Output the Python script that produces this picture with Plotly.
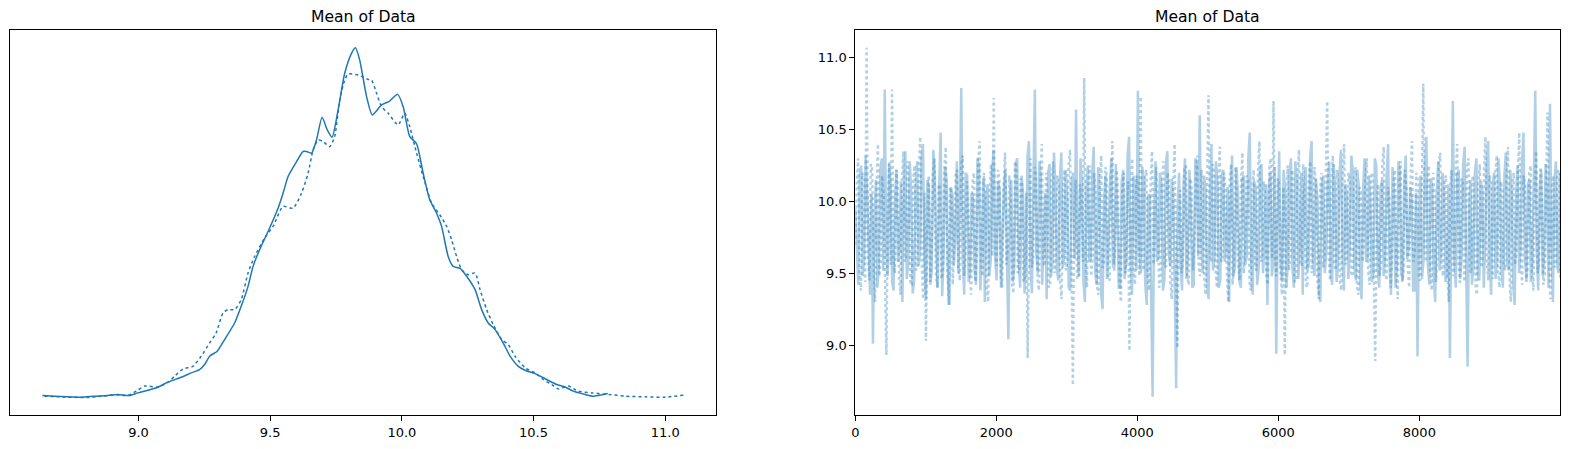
import numpy as np
import plotly.graph_objects as go

# ---- KDE (left panel) ----
kde0_x = [8.635, 8.681, 8.731, 8.782, 8.833, 8.883, 8.921, 8.966, 8.997, 9.035, 9.074, 9.112, 9.162,
          9.200, 9.232, 9.251, 9.270, 9.299, 9.327, 9.365, 9.390, 9.416, 9.435, 9.460, 9.492, 9.530,
          9.549, 9.568, 9.593, 9.625, 9.638, 9.657, 9.676, 9.697, 9.717, 9.735, 9.758, 9.783, 9.809,
          9.824, 9.840, 9.866, 9.888, 9.923, 9.951, 9.984, 10.005, 10.030, 10.056, 10.081, 10.106,
          10.132, 10.151, 10.176, 10.195, 10.221, 10.246, 10.278, 10.303, 10.328, 10.354, 10.385,
          10.411, 10.442, 10.468, 10.506, 10.550, 10.588, 10.620, 10.651, 10.696, 10.728, 10.759, 10.782]
kde0_y = [0.009, 0.006, 0.003, 0.0015, 0.006, 0.009, 0.014, 0.009, 0.021, 0.033, 0.047, 0.070, 0.092,
          0.112, 0.127, 0.150, 0.188, 0.211, 0.264, 0.339, 0.415, 0.506, 0.597, 0.673, 0.756, 0.862,
          0.930, 1.006, 1.059, 1.120, 1.120, 1.112, 1.173, 1.276, 1.218, 1.185, 1.309, 1.476, 1.567,
          1.592, 1.536, 1.370, 1.286, 1.332, 1.347, 1.380, 1.324, 1.188, 1.155, 1.021, 0.900,
          0.839, 0.779, 0.642, 0.597, 0.588, 0.552, 0.491, 0.400, 0.339, 0.309, 0.248,
          0.188, 0.142, 0.124, 0.109, 0.082, 0.059, 0.048, 0.029, 0.014, 0.006, 0.012, 0.018]

kde1_x = [8.643, 8.731, 8.807, 8.858, 8.921, 8.959, 8.997, 9.023, 9.074, 9.112, 9.137, 9.169, 9.207,
          9.238, 9.270, 9.295, 9.321, 9.340, 9.365, 9.390, 9.416, 9.441, 9.479, 9.511, 9.549, 9.587,
          9.619, 9.644, 9.663, 9.682, 9.701, 9.726, 9.745, 9.764, 9.783, 9.796, 9.834, 9.872, 9.885,
          9.904, 9.923, 9.948, 9.986, 10.011, 10.030, 10.056, 10.081, 10.113, 10.144, 10.170, 10.189,
          10.208, 10.227, 10.252, 10.278, 10.297, 10.322, 10.347, 10.379, 10.404, 10.430, 10.468,
          10.506, 10.537, 10.569, 10.594, 10.632, 10.670, 10.721, 10.785, 10.848, 10.924, 11.000, 11.070]
kde1_y = [0.006, 0.0015, 0.000, 0.006, 0.012, 0.009, 0.033, 0.052, 0.048, 0.070, 0.097, 0.130, 0.142,
          0.188, 0.248, 0.294, 0.385, 0.400, 0.400, 0.445, 0.567, 0.642, 0.726, 0.779, 0.870, 0.862,
          0.930, 1.021, 1.127, 1.173, 1.165, 1.142, 1.188, 1.355, 1.445, 1.473, 1.468, 1.448, 1.445,
          1.385, 1.324, 1.294, 1.241, 1.294, 1.233, 1.112, 1.006, 0.885, 0.832, 0.779, 0.718,
          0.642, 0.582, 0.559, 0.567, 0.491, 0.400, 0.332, 0.264, 0.241, 0.188, 0.135,
          0.112, 0.082, 0.059, 0.039, 0.052, 0.029, 0.021, 0.014, 0.006, 0.003, 0.0015, 0.011]

# ---- Trace (right panel): thinned samples ----
chain0 = [
    9.95, 9.62, 9.42, 10.18, 10.25, 9.48, 9.60, 10.32, 10.08, 9.70, 9.35, 10.05, 9.01, 9.88, 10.15, 9.40, 9.55, 10.22, 10.30, 9.52,
    10.78, 9.66, 9.48, 10.26, 10.12, 9.44, 9.38, 10.02, 10.22, 9.58, 9.70, 10.14, 9.30, 10.00, 10.35, 9.46, 9.58, 10.28, 10.05, 9.36,
    9.45, 10.08, 10.28, 9.55, 9.65, 10.30, 10.40, 9.60, 9.32, 10.15, 10.10, 9.42, 9.52, 10.36, 10.20, 9.68, 9.40, 10.12, 10.48, 9.34,
    9.62, 10.24, 10.15, 9.46, 9.28, 10.10, 10.05, 9.56, 9.75, 10.28, 9.50, 10.02, 10.79, 9.60, 9.35, 10.20, 10.18, 9.44, 9.50, 10.06,
    10.02, 9.52, 9.42, 10.30, 10.25, 9.38, 9.68, 10.16, 9.30, 10.04, 10.12, 9.48, 9.58, 10.22, 10.36, 9.62, 9.45, 10.14, 10.08, 9.40,
    9.72, 10.10, 10.22, 9.50, 9.04, 9.92, 10.15, 9.44, 9.55, 10.26, 10.30, 9.58, 9.40, 10.18, 10.05, 9.36, 9.62, 10.32, 10.42, 9.55,
    9.36, 10.12, 10.78, 9.64, 9.50, 10.28, 10.18, 9.42, 9.70, 10.06, 9.32, 10.20, 10.26, 9.48, 9.58, 10.34, 10.10, 9.52, 9.45, 10.16,
    10.34, 9.54, 9.62, 10.22, 10.02, 9.40, 9.38, 10.14, 10.20, 9.60, 10.64, 9.70, 9.48, 10.30, 10.12, 9.44, 9.30, 10.08, 10.25, 9.58,
    9.60, 10.20, 10.38, 9.50, 9.42, 10.24, 10.06, 9.36, 9.25, 10.00, 10.18, 9.46, 9.68, 10.12, 10.30, 9.56, 9.52, 10.26, 9.95, 9.40,
    9.40, 10.14, 10.22, 9.46, 9.58, 10.32, 10.45, 9.62, 9.35, 10.18, 10.10, 9.52, 10.77, 9.66, 9.50, 10.24, 10.15, 9.42, 9.28, 10.04,
    10.05, 9.48, 8.64, 9.90, 10.28, 9.58, 9.62, 10.20, 10.12, 9.38, 9.45, 10.26, 10.35, 9.64, 9.55, 10.16, 10.02, 9.44, 8.70, 9.96,
    10.20, 9.56, 9.38, 10.12, 10.30, 9.46, 9.65, 10.22, 9.95, 9.40, 9.42, 10.30, 10.25, 9.62, 10.60, 9.72, 9.50, 10.18, 10.08, 9.44,
    9.32, 10.06, 10.40, 9.52, 9.60, 10.28, 10.15, 9.40, 9.45, 10.18, 10.22, 9.58, 9.70, 10.10, 9.30, 10.02, 10.32, 9.48, 9.55, 10.24,
    10.05, 9.44, 9.40, 10.16, 10.18, 9.56, 9.62, 10.30, 10.48, 9.60, 9.35, 10.14, 10.10, 9.42, 9.52, 10.20, 10.26, 9.50, 9.68, 10.12,
    9.28, 10.10, 10.20, 9.48, 9.58, 10.24, 8.94, 9.86, 10.35, 9.56, 9.45, 10.22, 10.08, 9.40, 9.62, 10.18, 10.30, 9.54, 9.40, 10.28,
    10.15, 9.46, 9.72, 10.20, 9.35, 10.06, 10.24, 9.52, 9.55, 10.30, 10.42, 9.60, 9.48, 10.16, 10.02, 9.38, 9.30, 10.12, 10.18, 9.50,
    9.65, 10.14, 10.28, 9.50, 9.42, 10.26, 10.10, 9.44, 9.58, 10.20, 10.36, 9.62, 9.38, 10.12, 10.05, 9.46, 9.70, 10.32, 10.22, 9.56,
    9.45, 10.22, 10.12, 9.42, 9.32, 10.08, 10.30, 9.58, 9.60, 10.18, 9.98, 9.44, 9.50, 10.30, 10.25, 9.52, 9.40, 10.10, 10.15, 9.48,
    9.62, 10.16, 10.40, 9.54, 9.35, 10.24, 10.08, 9.40, 9.55, 10.28, 10.20, 9.50, 9.45, 10.14, 10.32, 9.60, 9.68, 10.10, 10.02, 9.38,
    9.38, 10.06, 8.92, 9.90, 10.18, 9.46, 9.58, 10.22, 10.45, 9.56, 9.42, 10.16, 10.10, 9.48, 9.30, 10.04, 10.28, 9.52, 9.65, 10.20,
    10.05, 9.44, 9.50, 10.12, 8.91, 9.86, 10.70, 9.58, 9.40, 10.18, 10.22, 9.46, 9.62, 10.26, 10.38, 9.56, 8.85, 9.92, 10.15, 9.42,
    9.55, 10.20, 10.30, 9.48, 9.45, 10.14, 10.08, 9.40, 9.72, 10.24, 10.42, 9.58, 9.35, 10.10, 10.20, 9.46, 9.60, 10.30, 10.12, 9.52,
    9.40, 10.18, 10.34, 9.56, 9.52, 10.22, 10.05, 9.42, 9.28, 10.06, 10.25, 9.50, 9.68, 10.28, 10.48, 9.60, 9.45, 10.12, 10.15, 9.44,
    9.58, 10.16, 10.77, 9.64, 9.38, 10.10, 10.22, 9.48, 9.62, 10.26, 10.02, 9.40, 10.68, 9.70, 9.30, 10.14, 10.28, 9.54, 9.50, 10.20,
]
chain1 = [
    9.70, 10.12, 10.30, 9.50, 9.38, 10.20, 10.15, 9.44, 11.07, 9.62, 9.45, 10.26, 10.22, 9.54, 9.30, 10.08, 10.40, 9.48, 9.58, 10.18,
    10.05, 9.40, 8.93, 9.92, 10.28, 9.56, 10.78, 9.60, 9.50, 10.22, 10.12, 9.46, 9.35, 10.14, 10.35, 9.58, 9.62, 10.28, 10.02, 9.42,
    9.42, 10.16, 10.25, 9.52, 9.55, 10.24, 10.45, 9.58, 9.32, 10.06, 9.03, 9.88, 10.18, 9.44, 9.65, 10.20, 10.30, 9.50, 9.40, 10.12,
    10.10, 9.46, 9.52, 10.22, 10.38, 9.60, 9.28, 10.10, 10.05, 9.42, 9.72, 10.18, 10.22, 9.54, 9.45, 10.26, 10.32, 9.48, 9.58, 10.14,
    9.98, 9.52, 9.35, 10.14, 10.20, 9.44, 9.62, 10.28, 10.42, 9.56, 9.48, 10.20, 10.08, 9.40, 9.30, 10.04, 10.26, 9.62, 10.72, 9.68,
    9.55, 10.22, 10.15, 9.48, 9.40, 10.10, 10.34, 9.56, 9.68, 10.18, 10.02, 9.42, 9.36, 10.28, 10.24, 9.50, 9.52, 10.16, 10.12, 9.44,
    9.45, 10.06, 8.91, 9.84, 10.30, 9.54, 9.60, 10.24, 10.18, 9.46, 9.38, 10.12, 10.40, 9.58, 9.55, 10.20, 10.05, 9.40, 9.42, 10.16,
    10.28, 9.50, 9.65, 10.18, 10.10, 9.44, 9.32, 10.08, 10.22, 9.52, 9.58, 10.26, 10.36, 9.60, 8.72, 9.94, 10.15, 9.46, 9.48, 10.12,
    10.02, 9.58, 10.86, 9.66, 9.40, 10.14, 10.25, 9.48, 9.62, 10.20, 10.08, 9.42, 9.35, 10.10, 10.32, 9.54, 9.55, 10.24, 10.18, 9.46,
    9.45, 10.16, 10.42, 9.56, 9.68, 10.22, 10.05, 9.44, 9.30, 10.08, 10.20, 9.50, 9.58, 10.14, 8.96, 9.90, 10.30, 9.52, 9.42, 10.18,
    10.12, 9.48, 10.73, 9.64, 9.52, 10.18, 10.22, 9.46, 9.38, 10.12, 10.35, 9.56, 9.65, 10.24, 10.02, 9.40, 9.45, 10.10, 10.28, 9.54,
    9.55, 10.20, 10.15, 9.44, 9.32, 10.06, 10.40, 9.58, 8.98, 9.86, 10.08, 9.50, 9.60, 10.22, 10.25, 9.48, 9.42, 10.16, 10.12, 9.52,
    9.70, 10.14, 10.32, 9.54, 9.48, 10.22, 10.05, 9.46, 9.35, 10.10, 10.74, 9.62, 9.58, 10.26, 10.20, 9.52, 9.40, 10.12, 10.38, 9.58,
    9.62, 10.20, 10.10, 9.48, 9.30, 10.16, 10.26, 9.42, 9.55, 10.24, 10.02, 9.56, 9.45, 10.12, 10.34, 9.50, 9.68, 10.18, 10.15, 9.44,
    9.38, 10.08, 10.22, 9.54, 9.52, 10.20, 10.42, 9.58, 9.60, 10.14, 10.05, 9.46, 9.42, 10.24, 10.30, 9.60, 10.70, 9.66, 9.48, 10.16,
    10.12, 9.50, 9.35, 10.10, 8.93, 9.88, 10.25, 9.52, 9.62, 10.22, 10.18, 9.44, 9.45, 10.14, 10.36, 9.58, 9.55, 10.26, 10.02, 9.42,
    9.40, 10.18, 10.28, 9.50, 9.65, 10.24, 10.10, 9.46, 9.32, 10.08, 10.20, 9.54, 9.58, 10.16, 10.70, 9.64, 9.45, 10.12, 10.32, 9.56,
    9.52, 10.22, 10.08, 9.44, 9.38, 10.16, 10.40, 9.56, 9.62, 10.20, 10.15, 9.50, 9.48, 10.14, 10.24, 9.42, 9.35, 10.10, 10.05, 9.58,
    9.70, 10.16, 10.30, 9.52, 9.42, 10.20, 10.18, 9.46, 8.89, 9.90, 10.12, 9.48, 9.55, 10.24, 10.38, 9.60, 9.45, 10.10, 10.02, 9.40,
    9.60, 10.14, 10.22, 9.50, 9.32, 10.18, 10.28, 9.44, 9.52, 10.22, 10.10, 9.56, 9.40, 10.12, 10.42, 9.58, 9.65, 10.20, 10.15, 9.46,
    9.45, 10.10, 10.82, 9.66, 9.58, 10.16, 10.25, 9.52, 9.38, 10.20, 10.05, 9.44, 9.62, 10.26, 10.34, 9.56, 9.48, 10.14, 10.18, 9.50,
    9.30, 10.06, 10.22, 9.48, 9.55, 10.20, 10.40, 9.58, 9.42, 10.16, 10.12, 9.44, 9.68, 10.24, 10.30, 9.52, 9.50, 10.18, 10.02, 9.42,
    9.35, 10.12, 10.26, 9.54, 9.58, 10.22, 10.45, 9.60, 9.45, 10.18, 10.15, 9.46, 9.62, 10.20, 10.32, 9.50, 9.40, 10.14, 10.08, 9.56,
    9.52, 10.16, 10.38, 9.48, 9.30, 10.10, 10.20, 9.56, 9.65, 10.22, 10.48, 9.60, 9.42, 10.18, 10.12, 9.44, 9.55, 10.20, 10.25, 9.52,
    9.38, 10.14, 10.35, 9.50, 9.60, 10.24, 10.05, 9.42, 9.48, 10.16, 10.62, 9.62, 9.32, 10.08, 10.18, 9.54, 9.58, 10.20, 10.22, 9.46,
]

n_draws = 10000
title_text = "Mean of Data"
value_ticks = [9.0, 9.5, 10.0, 10.5, 11.0]
draw_ticks = [0, 2000, 4000, 6000, 8000]

BLUE = "#1f77b4"
TRACE_BLUE = "rgba(31,119,180,0.35)"

fig = go.Figure()
fig.add_trace(go.Scatter(x=kde0_x, y=kde0_y, mode="lines",
                         line=dict(color=BLUE, width=1.5, shape="spline", smoothing=0.6),
                         xaxis="x", yaxis="y", showlegend=False, hoverinfo="skip"))
fig.add_trace(go.Scatter(x=kde1_x, y=kde1_y, mode="lines",
                         line=dict(color=BLUE, width=1.5, dash="dot", shape="spline", smoothing=0.6),
                         xaxis="x", yaxis="y", showlegend=False, hoverinfo="skip"))

# thinned samples placed at their draw positions
d0 = np.linspace(0, n_draws - 1, len(chain0))
d1 = np.linspace(0, n_draws - 1, len(chain1))
fig.add_trace(go.Scatter(x=d0, y=chain0, mode="lines", line=dict(color=TRACE_BLUE, width=2.5),
                         xaxis="x2", yaxis="y2", showlegend=False, hoverinfo="skip"))
fig.add_trace(go.Scatter(x=d1, y=chain1, mode="lines", line=dict(color=TRACE_BLUE, width=2.5, dash="dot"),
                         xaxis="x2", yaxis="y2", showlegend=False, hoverinfo="skip"))

allv = np.concatenate([chain0, chain1, kde0_x, kde1_x])
lo, hi = float(np.min(allv)), float(np.max(allv))
pad = 0.05 * (hi - lo)
vrange = [lo - pad, hi + pad]

ky = np.concatenate([kde0_y, kde1_y])
kpad = 0.05 * (ky.max() - ky.min())
krange = [ky.min() - kpad, ky.max() + kpad]

W, H = 1570, 449
top_px, bot_px = 30.3, 415.0
ydom = [1 - bot_px / H, 1 - top_px / H]
xdom1 = [10.3 / W, 715.7 / W]
xdom2 = [855.3 / W, 1560.3 / W]

frame = dict(showline=True, mirror=True, linecolor="black", linewidth=1, showgrid=False, zeroline=False,
             automargin=False, tickfont=dict(family="DejaVu Sans", size=13, color="black"))
tick_style = dict(ticks="outside", ticklen=5, tickwidth=1, tickcolor="black")

fig.update_layout(
    width=W, height=H, margin=dict(l=0, r=0, t=0, b=0, autoexpand=False),
    paper_bgcolor="white", plot_bgcolor="white",
    font=dict(family="DejaVu Sans", color="black"),
    xaxis=dict(domain=xdom1, anchor="y", range=vrange, tickvals=value_ticks, tickformat=".1f",
               **frame, **tick_style),
    yaxis=dict(domain=ydom, anchor="x", range=krange, showticklabels=False, ticks="", **frame),
    xaxis2=dict(domain=xdom2, anchor="y2", range=[0, n_draws - 1], tickvals=draw_ticks,
                **frame, **tick_style),
    yaxis2=dict(domain=ydom, anchor="x2", range=vrange, tickvals=value_ticks, tickformat=".1f",
                **frame, **tick_style),
    annotations=[
        dict(text=title_text, x=(xdom1[0] + xdom1[1]) / 2, y=1 - 16.5 / H, xref="paper", yref="paper",
             showarrow=False, font=dict(family="DejaVu Sans", size=15.6, color="black"),
             xanchor="center", yanchor="middle"),
        dict(text=title_text, x=(xdom2[0] + xdom2[1]) / 2, y=1 - 16.5 / H, xref="paper", yref="paper",
             showarrow=False, font=dict(family="DejaVu Sans", size=15.6, color="black"),
             xanchor="center", yanchor="middle"),
    ],
)

fig.write_html("out.html", config={"displayModeBar": False},
               post_script="document.body.style.margin='0';document.body.style.overflow='hidden';")
